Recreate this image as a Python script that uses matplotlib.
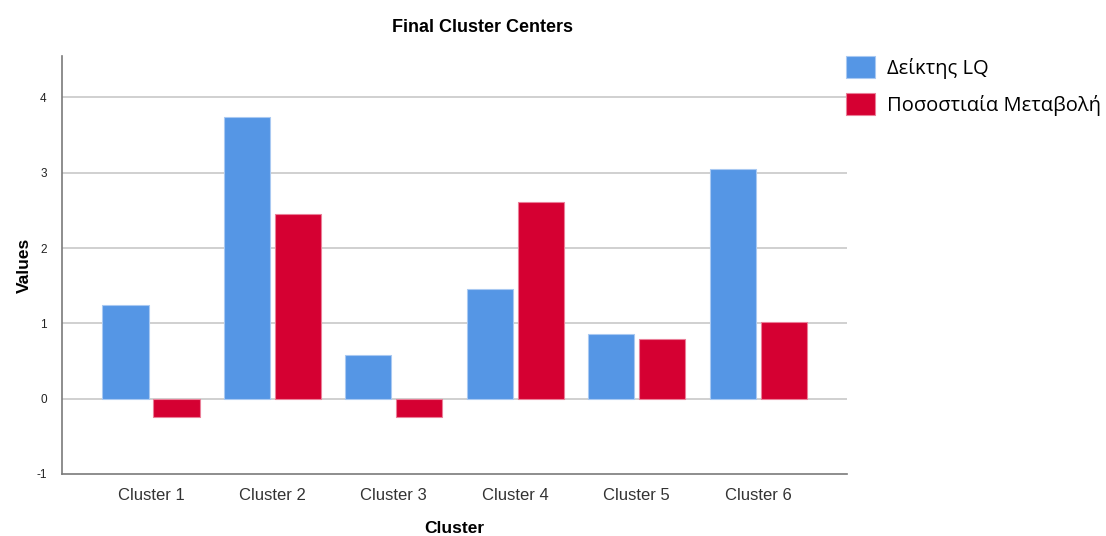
import numpy as np
import matplotlib.pyplot as plt
from matplotlib.patches import Patch

clusters = ["Cluster 1", "Cluster 2", "Cluster 3", "Cluster 4", "Cluster 5", "Cluster 6"]
lq_values = [1.25, 3.74, 0.58, 1.45, 0.86, 3.05]
change_values = [-0.25, 2.45, -0.24, 2.61, 0.79, 1.02]
series_names = ["Δείκτης LQ", "Ποσοστιαία Μεταβολή"]
series_colors = ["#5596e5", "#d50032"]
edge_colors = ["#a9c9f2", "#ea7f98"]

fig = plt.figure(figsize=(11.06, 5.36), dpi=100)
ax = fig.add_axes([0.0561, 0.1157, 0.7098, 0.7799])

x = np.arange(len(clusters))
w = 0.38
off = 0.21
ax.bar(x - off, lq_values, w, color=series_colors[0], edgecolor=edge_colors[0], linewidth=0.8, zorder=3)
ax.bar(x + off, change_values, w, color=series_colors[1], edgecolor=edge_colors[1], linewidth=0.8, zorder=3)

ax.set_xlim(-0.733, 5.733)
ax.set_ylim(-1, 4.55)
ax.set_yticks([-1, 0, 1, 2, 3, 4])
ax.set_yticklabels(["-1", "0", "1", "2", "3", "4"], fontsize=8.5, family="Liberation Sans", color="#222222")
ax.set_xticks(x)
ax.set_xticklabels(clusters, fontsize=12, family="Liberation Sans", color="#333333")
ax.tick_params(axis="both", length=0)
ax.tick_params(axis="y", pad=11)
ax.tick_params(axis="x", pad=10)

for v in [0, 1, 2, 3, 4]:
    ax.axhline(v, color="#c8c8c8", linewidth=1.2, zorder=1)

for s in ["top", "right"]:
    ax.spines[s].set_visible(False)
for s in ["left", "bottom"]:
    ax.spines[s].set_color("#7a7a7a")
    ax.spines[s].set_linewidth(1.2)

ax.set_ylabel("Values", fontsize=12.5, fontweight="bold", family="Liberation Sans", labelpad=3)
ax.set_xlabel("Cluster", fontsize=12.5, fontweight="bold", family="Liberation Sans", labelpad=13)

fig.text(483 / 1106, 1 - 28 / 536, "Final Cluster Centers", ha="center", va="center",
         fontsize=13, fontweight="bold", family="Liberation Sans")

handles = [Patch(facecolor=c, edgecolor=e, linewidth=0.8) for c, e in zip(series_colors, edge_colors)]
fig.legend(handles, series_names, loc="upper left", bbox_to_anchor=(828 / 1106, 1 - 38 / 536),
           frameon=False, prop={"family": "Open Sans", "size": 14.5},
           handlelength=1.45, handleheight=1.3, handletextpad=0.6, labelspacing=0.7)

fig.savefig("out.png", dpi=100)
